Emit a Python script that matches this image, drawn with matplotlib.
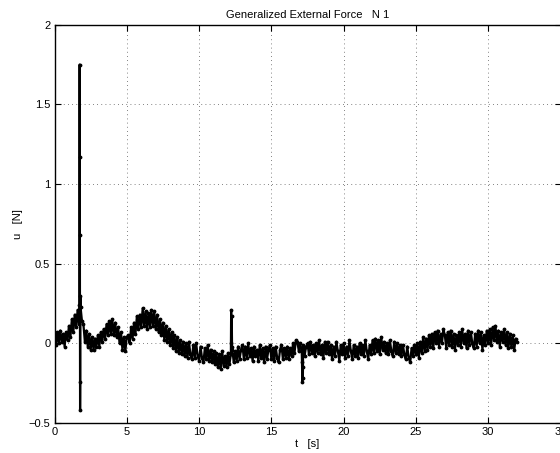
import numpy as np
import matplotlib
matplotlib.use('Agg')
import matplotlib.pyplot as plt

plt.rcParams['font.family'] = ['Liberation Sans', 'DejaVu Sans']

# measured force, sampled every 0.1 s (one row per second)
u_rows = [
    [0.06, -0.01, 0.07, 0.00, 0.08, 0.01, 0.06, -0.02, 0.07, 0.02],
    [0.11, 0.04, 0.15, 0.07, 0.18, 0.10, 0.21, 0.12, 0.23, 0.14],
    [0.12, 0.01, 0.08, -0.02, 0.06, -0.04, 0.04, -0.04, 0.03, -0.02],
    [0.05, -0.02, 0.07, 0.01, 0.09, 0.03, 0.12, 0.05, 0.14, 0.06],
    [0.15, 0.05, 0.13, 0.04, 0.10, 0.00, 0.07, -0.04, 0.04, -0.05],
    [0.04, 0.05, 0.00, 0.10, 0.03, 0.13, 0.06, 0.17, 0.09, 0.18],
    [0.10, 0.22, 0.11, 0.20, 0.09, 0.19, 0.10, 0.21, 0.11, 0.20],
    [0.09, 0.18, 0.07, 0.15, 0.05, 0.13, 0.02, 0.11, 0.01, 0.09],
    [-0.01, 0.07, -0.03, 0.05, -0.05, 0.04, -0.06, 0.02, -0.07, 0.01],
    [-0.08, 0.00, -0.09, 0.01, -0.07, -0.10, -0.01, -0.09, 0.00, -0.08],
    [-0.11, -0.02, -0.09, -0.12, -0.03, -0.10, -0.01, -0.11, -0.04, -0.12],
    [-0.05, -0.13, -0.06, -0.15, -0.07, -0.16, -0.05, -0.14, -0.08, -0.15],
    [-0.06, -0.13, -0.07, -0.04, -0.12, -0.05, -0.11, -0.02, -0.10, -0.04],
    [-0.01, -0.10, -0.02, -0.09, 0.00, -0.08, -0.03, -0.11, -0.02, -0.08],
    [-0.04, -0.11, -0.01, -0.09, -0.03, -0.12, -0.02, -0.10, -0.04, -0.01],
    [-0.10, -0.03, -0.11, -0.02, -0.09, -0.12, -0.04, -0.01, -0.10, -0.03],
    [-0.09, -0.02, -0.10, -0.03, -0.08, 0.00, -0.06, 0.02, 0.01, -0.05],
    [0.00, -0.05, -0.01, -0.08, -0.02, 0.00, -0.07, 0.01, -0.06, -0.01],
    [-0.08, 0.00, -0.06, 0.02, -0.07, -0.01, -0.09, 0.01, -0.06, 0.01],
    [-0.07, -0.01, -0.10, -0.02, -0.08, 0.01, -0.05, -0.11, -0.01, -0.07],
    [0.00, -0.09, -0.02, -0.08, 0.02, -0.05, -0.10, -0.01, -0.08, -0.02],
    [-0.09, 0.00, -0.07, -0.01, -0.08, 0.02, -0.05, -0.10, -0.01, -0.07],
    [0.02, -0.06, 0.03, -0.05, 0.02, -0.07, 0.04, -0.04, 0.01, -0.06],
    [0.00, -0.07, 0.02, -0.05, -0.08, 0.01, -0.06, 0.00, -0.07, -0.01],
    [-0.08, -0.01, -0.07, -0.10, -0.02, -0.09, -0.12, -0.03, -0.08, -0.01],
    [-0.07, 0.00, -0.09, 0.01, -0.06, 0.04, -0.05, 0.03, -0.04, 0.05],
    [-0.02, 0.06, -0.03, 0.07, 0.00, 0.08, -0.02, 0.06, 0.00, 0.09],
    [0.05, -0.03, 0.07, -0.01, 0.08, -0.02, 0.06, -0.04, 0.05, -0.01],
    [0.07, -0.02, 0.09, 0.00, 0.06, -0.03, 0.08, -0.01, 0.07, 0.00],
    [-0.03, 0.06, -0.02, 0.08, 0.00, 0.07, -0.04, 0.05, -0.01, 0.08],
    [0.00, 0.09, -0.01, 0.10, 0.02, 0.11, 0.01, 0.08, -0.02, 0.07],
    [0.01, 0.09, -0.01, 0.07, -0.03, 0.06, -0.02, 0.05, -0.04, 0.03],
    [0.01],
]
dt = 0.1

# short transients recorded between the regular samples
spike_t = [1.72, 1.74, 1.75, 1.76, 1.77, 1.78, 1.79,
           12.22, 12.24, 12.26, 12.28,
           17.12, 17.14, 17.16, 17.18]
spike_u = [0.24, 1.75, 1.17, 0.68, -0.42, -0.24, 0.30,
           0.21, 0.00, 0.17, -0.02,
           -0.12, -0.24, -0.15, -0.22]

x_ticks = [0, 5, 10, 15, 20, 25, 30, 35]
y_ticks = [-0.5, 0, 0.5, 1, 1.5, 2]
y_ticklabels = ['\u22120.5', '0', '0.5', '1', '1.5', '2']

u_base = np.concatenate([np.array(r, dtype=float) for r in u_rows])
t_base = np.arange(len(u_base)) * dt
t = np.concatenate([t_base, spike_t])
u = np.concatenate([u_base, spike_u])
order = np.argsort(t, kind='stable')
t, u = t[order], u[order]

fig = plt.figure(figsize=(5.6, 4.53), dpi=100)
ax = fig.add_axes([54.5 / 560, 1 - 423 / 453, 506 / 560, (423 - 24.7) / 453])

ax.plot(t, u, color='black', lw=1.6, marker='.', ms=3.5)

ax.set_xlim(0, 35)
ax.set_ylim(-0.5, 2)
ax.set_xticks(x_ticks)
ax.set_xticklabels([str(v) for v in x_ticks])
ax.set_yticks(y_ticks)
ax.set_yticklabels(y_ticklabels)
ax.tick_params(direction='in', top=True, right=True, length=4, width=0.8,
               labelsize=8, pad=3)
ax.grid(True, color='0.35', lw=0.6, linestyle=(0, (1, 4)))
for s in ax.spines.values():
    s.set_linewidth(1.0)

ax.set_title('Generalized External Force   N 1', fontsize=8, pad=5)
ax.set_xlabel('t   [s]', fontsize=8, labelpad=1)
ax.set_ylabel('u   [N]', fontsize=8, labelpad=4)

fig.savefig('out.png', dpi=100)
